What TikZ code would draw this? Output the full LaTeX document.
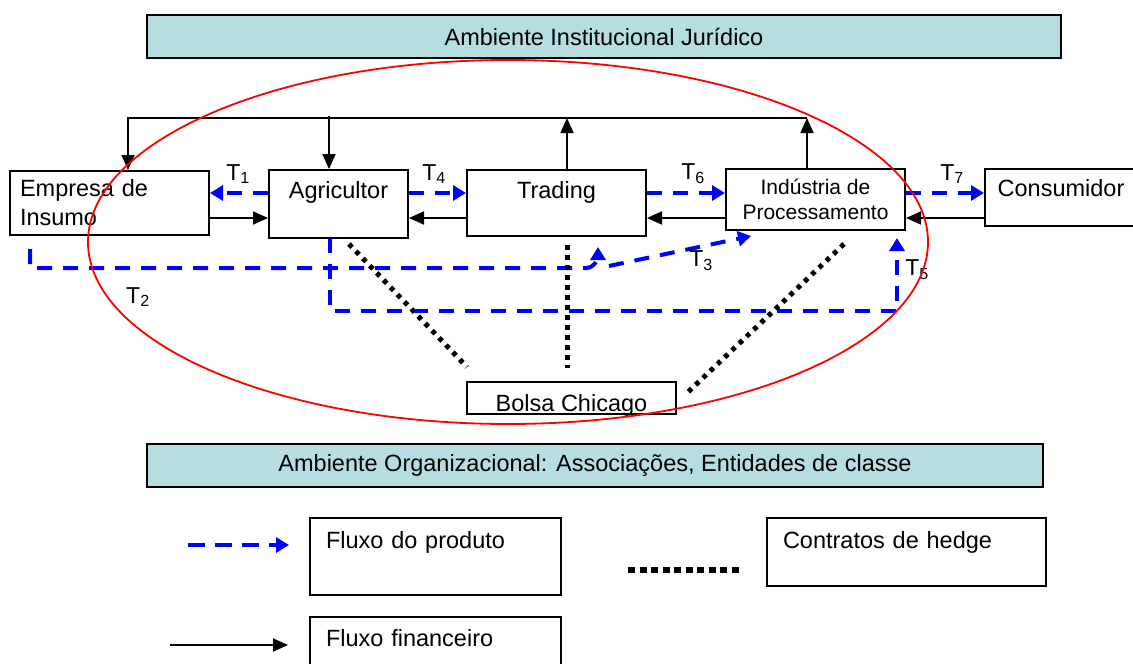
\documentclass[tikz,border=0pt]{standalone}
\usepackage{fontspec}
\setmainfont{Liberation Sans}
\usetikzlibrary{arrows.meta}

\definecolor{ambiente}{RGB}{182,222,224}
\definecolor{azul}{RGB}{0,0,255}

\tikzset{
  caixa/.style={draw, line width=2pt, inner sep=0pt, font=\fontsize{23.5}{29}\selectfont},
  faixa/.style={caixa, fill=ambiente, minimum height=43pt},
  rotulo/.style={inner sep=0pt, font=\fontsize{23}{27}\selectfont},
  fin/.style={line width=1.8pt, -{Triangle[length=15pt,width=13pt]}},
  prod/.style={azul, line width=4pt, dash pattern=on 15pt off 11pt, -{Triangle[length=13pt,width=15pt]}},
  hedge/.style={line width=5pt, dash pattern=on 4.5pt off 5.5pt},
}

\begin{document}
\begin{tikzpicture}[x=1pt,y=-1pt]
\useasboundingbox (0,0) rectangle (1133,664);

% ambientes
\node[faixa, minimum width=914pt] (institucional) at (604,36.5) {Ambiente Institucional Jurídico};
\node[faixa, minimum width=896pt] (organizacional) at (595,465.5) {Ambiente Organizacional: Associações, Entidades de classe};

% agentes da cadeia
\node[caixa, minimum width=199pt, minimum height=64pt, text width=179pt, inner xsep=10pt, align=left] (empresa) at (109.5,203) {Empresa de\\Insumo};
\node[caixa, minimum width=139pt, text height=28pt, text depth=40pt] (agricultor) at (338.5,169) [anchor=north] {Agricultor};
\node[caixa, minimum width=179pt, text height=28pt, text depth=38pt] (trading) at (556.5,169) [anchor=north] {Trading};
\node[caixa, minimum width=179pt, minimum height=61pt, align=center, font=\fontsize{21}{25}\selectfont] (industria) at (815.5,199.5) {Indústria de\\Processamento};
\node[caixa, minimum width=152pt, text height=27pt, text depth=30pt] (consumidor) at (1061,168) [anchor=north] {Consumidor};
\node[caixa, minimum width=209pt, text height=29pt, text depth=3pt] (bolsa) at (571.5,381) [anchor=north] {Bolsa Chicago};

% alturas dos fluxos
\coordinate (yprod) at (0,193);
\coordinate (yfin) at (0,218);
\coordinate (fE) at (128,118);
\coordinate (fA) at (329,116);
\coordinate (fT) at (567,118);
\coordinate (fI) at (807,118);

% fluxo financeiro
\draw[fin] (fI) -- (fE) -- (fE |- empresa.north);
\draw[fin] (fA) -- (fA |- agricultor.north);
\draw[fin] (fT |- trading.north) -- (fT);
\draw[fin] (fI |- industria.north) -- (fI);
\draw[fin] (empresa.east |- yfin) -- (agricultor.west |- yfin);
\draw[fin] (trading.west |- yfin) -- (agricultor.east |- yfin);
\draw[fin] (industria.west |- yfin) -- (trading.east |- yfin);
\draw[fin] (consumidor.west |- yfin) -- (industria.east |- yfin);

% fluxo do produto
\draw[prod] (agricultor.west |- yprod) -- (empresa.east |- yprod);
\draw[prod] (agricultor.east |- yprod) -- (trading.west |- yprod);
\draw[prod] (trading.east |- yprod) -- (industria.west |- yprod);
\draw[prod] (industria.east |- yprod) -- (consumidor.west |- yprod);

\coordinate (t2ini) at (30,249);
\coordinate (junta) at (586,268);
\coordinate (t2fim) at (598,247);
\coordinate (t3ini) at (609,266);
\coordinate (t3fim) at (751,236);
\draw[prod] (t2ini) |- (junta) to[out=0,in=-90] (t2fim);
\draw[prod] (t3ini) -- (t3fim);

\coordinate (t5ini) at (330,238);
\coordinate (t5canto) at (897,311);
\coordinate (t5fim) at (897,238);
\draw[prod] (t5ini) |- (t5canto) -- (t5fim);

% contratos de hedge
\coordinate (h1) at (349,244);
\coordinate (h2) at (567,245);
\coordinate (h3) at (844,244);
\draw[hedge] (h1) -- (467,367);
\draw[hedge] (h2) -- (567,368);
\draw[hedge] (h3) -- (687,393);

% transacoes
\node[rotulo] (T1) at (238,174) {T\textsubscript{1}};
\node[rotulo] (T2) at (138,297) {T\textsubscript{2}};
\node[rotulo] (T3) at (701,261) {T\textsubscript{3}};
\node[rotulo] (T4) at (434,174) {T\textsubscript{4}};
\node[rotulo] (T5) at (917,270) {T\textsubscript{5}};
\node[rotulo] (T6) at (693,174) {T\textsubscript{6}};
\node[rotulo] (T7) at (952,174) {T\textsubscript{7}};

% estrutura de governanca
\draw[red, line width=1.8pt] (508,242) ellipse [x radius=420, y radius=182];

% legenda
\node[caixa, text width=219pt, inner xsep=16pt, align=left, text height=30pt, text depth=47pt] (legproduto) at (309,517) [anchor=north west] {Fluxo do produto};
\node[caixa, text width=247pt, inner xsep=16pt, align=left, text height=30pt, text depth=38pt] (leghedge) at (766,517) [anchor=north west] {Contratos de hedge};
\node[caixa, text width=219pt, inner xsep=16pt, align=left, text height=29pt, text depth=50pt] (legfinanceiro) at (309,616) [anchor=north west] {Fluxo financeiro};

\coordinate (lp) at (188,545);
\coordinate (lf) at (170,645);
\draw[prod, dash pattern=on 17pt off 10pt] (lp) -- (legproduto.west |- lp) [shorten >=20pt];
\draw[fin] (lf) -- (legfinanceiro.west |- lf) [shorten >=21pt];
\draw[line width=6pt, dash pattern=on 7pt off 4.5pt] (628,570) -- (leghedge.west |- 0,570) [shorten >=24pt];

\end{tikzpicture}
\end{document}
